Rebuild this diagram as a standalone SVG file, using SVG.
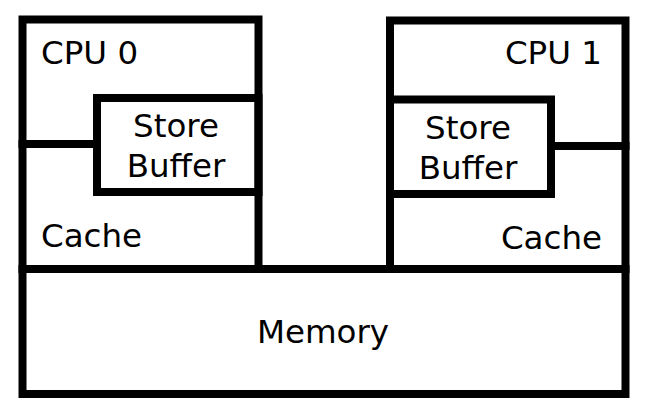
<svg xmlns="http://www.w3.org/2000/svg" width="650" height="414" viewBox="0 0 650 414">
<style>
.b{fill:none;stroke:#000;stroke-width:8;stroke-linecap:square}
text{font-family:"DejaVu Sans",sans-serif;font-size:32.5px;fill:#000}
</style>
<rect width="650" height="414" fill="#fff"/>
<g id="cpu0">
<rect class="b" x="22.5" y="19.5" width="236" height="249.5"/>
<line class="b" x1="22.5" y1="144" x2="97" y2="144"/>
<text x="41" y="64">CPU 0</text>
<text x="41" y="247">Cache</text>
</g>
<g id="sb0">
<rect class="b" x="97" y="98" width="161.5" height="94"/>
<text x="176" y="137" text-anchor="middle">Store</text>
<text x="176" y="177" text-anchor="middle">Buffer</text>
</g>
<g id="cpu1">
<rect class="b" x="390" y="20.5" width="235.5" height="248.5"/>
<line class="b" x1="551" y1="146" x2="625.5" y2="146"/>
<text x="602" y="64" text-anchor="end">CPU 1</text>
<text x="602" y="249" text-anchor="end">Cache</text>
</g>
<g id="sb1">
<rect class="b" x="390" y="99.5" width="161" height="94.5"/>
<text x="468" y="139" text-anchor="middle">Store</text>
<text x="468" y="179" text-anchor="middle">Buffer</text>
</g>
<g id="memory">
<rect class="b" x="22.5" y="269" width="603" height="125"/>
<text x="323" y="343" text-anchor="middle">Memory</text>
</g>
<g id="connectors"/>
</svg>
